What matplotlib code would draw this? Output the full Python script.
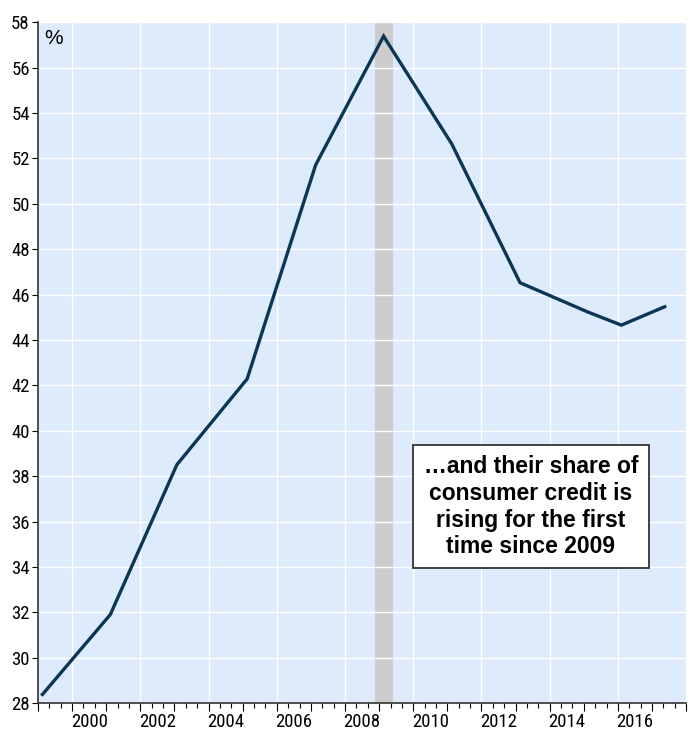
import matplotlib.pyplot as plt
import numpy as np
from matplotlib import font_manager

# share of consumer credit, %
years = [1999.13, 2001.12, 2003.07, 2005.13, 2007.14, 2009.13, 2011.13, 2013.13, 2015.1, 2016.1, 2017.37]
share = [28.38, 31.9, 38.5, 42.28, 51.71, 57.38, 52.63, 46.52, 45.24, 44.65, 45.46]
recession = (2008.87, 2009.4)
label_years = [2000, 2002, 2004, 2006, 2008, 2010, 2012, 2014, 2016]
note = "…and their share of\nconsumer credit is\nrising for the first\ntime since 2009"

installed = {f.name for f in font_manager.fontManager.ttflist}
tick_font = [f for f in ['Liberation Sans Narrow', 'DejaVu Sans Condensed', 'Roboto Condensed']
             if f in installed] + ['DejaVu Sans']
print(tick_font)

fig = plt.figure(figsize=(6.91, 7.37), dpi=100)
ax = fig.add_axes([0.055, 0.046, 0.938, 0.924])
ax.set_facecolor('#DDEBFC')

ax.axvspan(recession[0], recession[1], color='#CCCCCC', zorder=1, lw=0)
ax.plot(years, share, color='#0B3654', lw=2.4, zorder=3, solid_joinstyle='miter')

ax.set_xlim(1999, 2018)
ax.set_ylim(28, 58)

# grid
for y in range(28, 59, 2):
    ax.axhline(y, color='white', lw=1.0, zorder=2)
for x in label_years:
    ax.axvline(x, color='white', lw=1.0, zorder=2)

# y axis
ax.set_yticks(range(28, 59, 2))
ax.tick_params(axis='y', length=4, width=0.8, pad=2, labelsize=13.5)
for lab in ax.get_yticklabels():
    lab.set_family(tick_font)

# x axis: year ticks + 4-month minor ticks, labels centred on year
ax.set_xticks(np.arange(1999, 2019, 1))
ax.set_xticklabels([])
ax.set_xticks(np.arange(1999, 2018.01, 1 / 3), minor=True)
ax.tick_params(axis='x', which='major', length=6, width=0.8)
ax.tick_params(axis='x', which='minor', length=3.5, width=0.8)
sec = ax.secondary_xaxis('bottom')
sec.set_xticks([y + 0.5 for y in label_years])
sec.set_xticklabels([str(y) for y in label_years])
sec.tick_params(length=0, pad=7, labelsize=13.5)
sec.spines['bottom'].set_visible(False)
for lab in sec.get_xticklabels():
    lab.set_family(tick_font)

for s in ['top', 'right']:
    ax.spines[s].set_visible(False)
for s in ['left', 'bottom']:
    ax.spines[s].set_color('#333333')
    ax.spines[s].set_linewidth(1.2)

ax.text(0.01, 0.99, '%', transform=ax.transAxes, fontsize=15, va='top', ha='left', family='Liberation Sans')

ax.text(2013.45, 36.65, note, fontsize=16.5, fontweight='bold', family='Liberation Sans',
        ha='center', va='center', linespacing=1.2, zorder=5,
        bbox=dict(boxstyle='square,pad=0.45', fc='white', ec='#222222', lw=1.2))

fig.savefig('out.png', dpi=100)
